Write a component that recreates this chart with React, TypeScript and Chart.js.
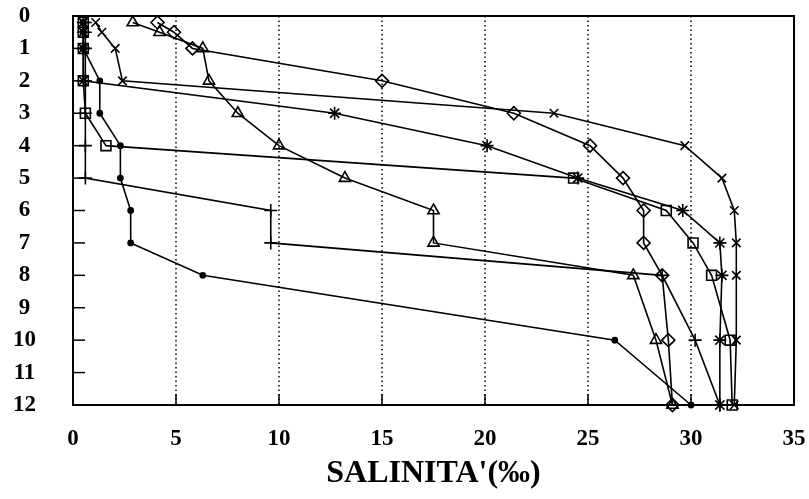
import { useEffect, useRef } from "react";
import { Chart, registerables } from "chart.js";

Chart.register(...registerables);

// Depth (m) of each measurement
const depths = [0.2, 0.5, 1, 2, 3, 4, 5, 6, 7, 8, 10, 12];
// Salinity (‰) per station
const diamondSeries = [4.1, 4.9, 5.8, 15.0, 21.4, 25.1, 26.7, 27.7, 27.7, 28.6, 28.9, 29.1];
const crossSeries = [1.1, 1.4, 2.05, 2.4, 23.35, 29.7, 31.5, 32.1, 32.2, 32.2, 32.2, 32.1];
const triangleSeries = [2.9, 4.2, 6.3, 6.6, 8.0, 10.0, 13.2, 17.5, 17.5, 27.2, 28.3, 29.1];
const starSeries = [0.5, 0.5, 0.5, 0.5, 12.7, 20.1, 24.5, 29.6, 31.4, 31.5, 31.4, 31.4];
const squareSeries = [0.5, 0.5, 0.5, 0.5, 0.6, 1.6, 24.3, 28.8, 30.1, 31.0, 31.9, 32.0];
const plusSeries = [0.6, 0.6, 0.6, 0.6, 0.6, 0.6, 0.6, 9.6, 9.6, 28.6, 30.2, 31.4];
const dotSeries = [0.5, 0.5, 0.5, 1.3, 1.3, 2.3, 2.3, 2.8, 2.8, 6.3, 26.3, 30.0];

const xTicks = [0, 5, 10, 15, 20, 25, 30, 35];
const yTicks = [0, 1, 2, 3, 4, 5, 6, 7, 8, 9, 10, 11, 12];
const xTitle = "SALINITA'(‰)";

const framePlugin = {
  id: "frame",
  beforeDatasetsDraw(chart: any) {
    const { ctx, chartArea: a, scales } = chart;
    const xs = scales.x;
    const ys = scales.y;
    ctx.save();
    ctx.strokeStyle = "#000";
    // dotted vertical grid lines
    ctx.lineWidth = 1.5;
    ctx.setLineDash([1.5, 3]);
    xTicks.forEach((v) => {
      if (v === 0 || v === 35) return;
      const px = xs.getPixelForValue(v);
      ctx.beginPath();
      ctx.moveTo(px, a.top);
      ctx.lineTo(px, a.bottom);
      ctx.stroke();
    });
    ctx.setLineDash([]);
    // inward ticks
    ctx.lineWidth = 1.5;
    xTicks.forEach((v) => {
      if (v === 0 || v === 35) return;
      const px = xs.getPixelForValue(v);
      ctx.beginPath();
      ctx.moveTo(px, a.bottom);
      ctx.lineTo(px, a.bottom - 11);
      ctx.stroke();
    });
    yTicks.forEach((v) => {
      if (v === 0 || v === 12) return;
      const py = ys.getPixelForValue(v);
      ctx.beginPath();
      ctx.moveTo(a.left, py);
      ctx.lineTo(a.left + 12, py);
      ctx.stroke();
    });
    // frame
    ctx.lineWidth = 2;
    ctx.strokeRect(a.left, a.top, a.right - a.left, a.bottom - a.top);
    ctx.restore();
  },
};

function series(values: number[], style: string, radius: number, fill: boolean) {
  return {
    data: values.map((v, i) => ({ x: v, y: depths[i] })),
    borderColor: "#000",
    borderWidth: 1.6,
    pointStyle: style,
    pointRadius: radius,
    pointBorderWidth: 1.6,
    pointBorderColor: "#000",
    pointBackgroundColor: fill ? "#000" : "rgba(0,0,0,0)",
    showLine: true,
    tension: 0,
    fill: false,
    clip: false as any,
  };
}

function zeroPad(s: any) {
  s.paddingTop = 0;
  s.paddingBottom = 0;
  s.paddingLeft = 0;
  s.paddingRight = 0;
}

export default function App() {
  const ref = useRef<HTMLCanvasElement | null>(null);
  useEffect(() => {
    document.body.style.margin = "0";
    const canvas = ref.current;
    if (!canvas) return;
    const chart = new Chart(canvas, {
      type: "scatter",
      data: {
        datasets: [
          series(dotSeries, "circle", 2.6, true),
          series(plusSeries, "cross", 6.5, false),
          series(squareSeries, "rect", 7, false),
          series(starSeries, "star", 6.5, false),
          series(triangleSeries, "triangle", 6.5, false),
          series(crossSeries, "crossRot", 6, false),
          series(diamondSeries, "rectRot", 6.5, false),
        ] as any,
      },
      options: {
        animation: false,
        responsive: false,
        layout: { padding: { top: 16, right: 15, left: 0, bottom: 0 } },
        plugins: { legend: { display: false }, tooltip: { enabled: false } },
        scales: {
          x: {
            type: "linear",
            min: 0,
            max: 35,
            afterBuildTicks: (s: any) => {
              s.ticks = xTicks.map((v) => ({ value: v }));
            },
            afterFit: (s: any) => {
              s.height = 94;
              zeroPad(s);
            },
            grid: { display: false, drawTicks: false },
            border: { display: false },
            ticks: {
              color: "#000",
              padding: 20,
              maxRotation: 0,
              autoSkip: false,
              font: { family: "'Liberation Serif', serif", size: 23, weight: "bold" },
            },
            title: {
              display: true,
              text: xTitle,
              color: "#000",
              padding: { top: 0, bottom: 6 },
              font: { family: "'Liberation Serif', serif", size: 32, weight: "bold" },
            },
          },
          y: {
            type: "linear",
            min: 0,
            max: 12,
            reverse: true,
            afterBuildTicks: (s: any) => {
              s.ticks = yTicks.map((v) => ({ value: v }));
            },
            afterFit: (s: any) => {
              s.width = 73;
              zeroPad(s);
            },
            grid: { display: false, drawTicks: false },
            border: { display: false },
            ticks: {
              color: "#000",
              padding: 37,
              autoSkip: false,
              crossAlign: "center",
              font: { family: "'Liberation Serif', serif", size: 23, weight: "bold" },
            },
          },
        },
      },
      plugins: [framePlugin],
    });
    return () => chart.destroy();
  }, []);
  return (
    <div style={{ position: "absolute", left: 0, top: 0, width: 809, height: 499 }}>
      <canvas ref={ref} width={809} height={499} style={{ display: "block" }} />
    </div>
  );
}
